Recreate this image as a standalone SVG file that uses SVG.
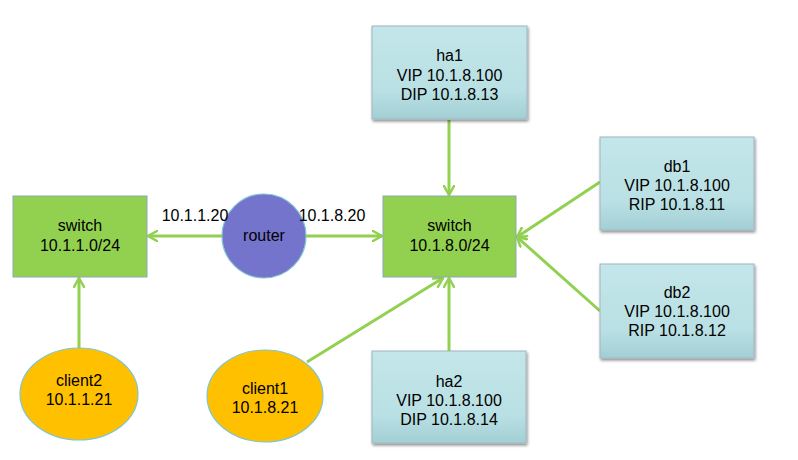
<svg xmlns="http://www.w3.org/2000/svg" width="798" height="460" viewBox="0 0 798 460">
<defs>
<linearGradient id="cy" x1="0" y1="0" x2="0" y2="1">
<stop offset="0" stop-color="#c3e6ea"/>
<stop offset="0.7" stop-color="#b9e0e4"/>
<stop offset="1" stop-color="#a2cfd4"/>
</linearGradient>
<filter id="sh" x="-10%" y="-10%" width="130%" height="130%">
<feGaussianBlur in="SourceAlpha" stdDeviation="1.5"/>
<feOffset dx="1" dy="2" result="b"/>
<feComponentTransfer><feFuncA type="linear" slope="0.45"/></feComponentTransfer>
<feMerge><feMergeNode/><feMergeNode in="SourceGraphic"/></feMerge>
</filter>
<marker id="ar" viewBox="0 0 12 12" refX="10" refY="6" markerWidth="12" markerHeight="12" markerUnits="userSpaceOnUse" orient="auto">
<path d="M1,1 L10,6 L1,11" fill="none" stroke="#92d050" stroke-width="2.5" stroke-linecap="round" stroke-linejoin="round"/>
</marker>
</defs>
<style>
text{font-family:"Liberation Sans",Arial,sans-serif;font-size:16px;fill:#000;text-anchor:middle}
.box{fill:url(#cy);stroke:#9fb6c0;stroke-width:1;filter:url(#sh)}
.sw{fill:#92d050;stroke:#8ea8b8;stroke-width:1}
.cl{fill:#ffc000;stroke:#7fc4d0;stroke-width:1.2}
.con line{stroke:#92d050;stroke-width:3;marker-end:url(#ar)}
</style>
<rect width="798" height="460" fill="#fff"/>
<g class="con" id="connectors">
<line x1="222" y1="236" x2="148" y2="236"/>
<line x1="306" y1="236" x2="382" y2="236"/>
<line x1="449" y1="120" x2="449" y2="195"/>
<line x1="600" y1="182" x2="517" y2="237"/>
<line x1="600" y1="311" x2="517" y2="237"/>
<line x1="449" y1="351" x2="449" y2="278"/>
<line x1="307" y1="362" x2="443" y2="278"/>
<line x1="79" y1="348" x2="79" y2="278"/>
</g>
<g id="ha1"><rect class="box" x="372" y="26" width="155" height="93"/>
<text x="449.5" y="61">ha1</text><text x="449.5" y="81">VIP 10.1.8.100</text><text x="449.5" y="100">DIP 10.1.8.13</text></g>
<g id="db1"><rect class="box" x="600" y="137" width="154" height="93"/>
<text x="677" y="172">db1</text><text x="677" y="191">VIP 10.1.8.100</text><text x="677" y="210">RIP 10.1.8.11</text></g>
<g id="db2"><rect class="box" x="600" y="264" width="154" height="94"/>
<text x="677" y="298">db2</text><text x="677" y="317">VIP 10.1.8.100</text><text x="677" y="336">RIP 10.1.8.12</text></g>
<g id="ha2"><rect class="box" x="372" y="351" width="154" height="92"/>
<text x="449" y="387">ha2</text><text x="449" y="406">VIP 10.1.8.100</text><text x="449" y="425">DIP 10.1.8.14</text></g>
<g id="switch2"><rect class="sw" x="383" y="196" width="133" height="81"/>
<text x="449.5" y="231">switch</text><text x="449.5" y="251">10.1.8.0/24</text></g>
<g id="switch1"><rect class="sw" x="13" y="196" width="134" height="81"/>
<text x="80" y="231">switch</text><text x="80" y="251">10.1.1.0/24</text></g>
<g id="router"><circle cx="264" cy="236" r="42" fill="#7474cc" stroke="#7fc4d0" stroke-width="1.2"/>
<text x="264" y="241">router</text></g>
<g id="labels"><text x="195" y="221">10.1.1.20</text><text x="332" y="221">10.1.8.20</text></g>
<g id="client2"><ellipse class="cl" cx="79" cy="394" rx="59" ry="46"/>
<text x="79" y="386">client2</text><text x="79" y="405">10.1.1.21</text></g>
<g id="client1"><ellipse class="cl" cx="265" cy="396" rx="58" ry="46"/>
<text x="265" y="394">client1</text><text x="265" y="413">10.1.8.21</text></g>
</svg>
